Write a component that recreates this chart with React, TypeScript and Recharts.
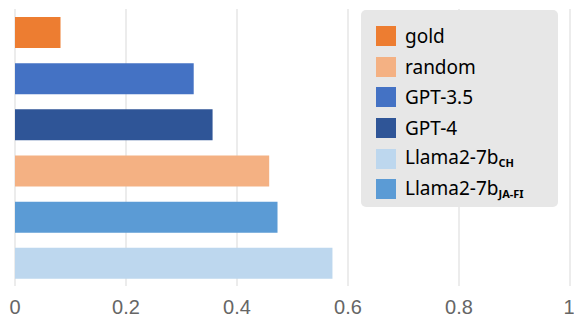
import React from 'react';
import { BarChart, Bar, XAxis, YAxis, CartesianGrid, Cell } from 'recharts';

// bars, top to bottom
const models = ['gold', 'GPT-3.5', 'GPT-4', 'random', 'Llama2-7b JA-FI', 'Llama2-7b CH'];
const scores = [0.082, 0.322, 0.356, 0.458, 0.473, 0.572];
const barColors = ['#ED7D31', '#4472C4', '#2F5597', '#F4B183', '#5B9BD5', '#BDD7EE'];

// legend order (as in the original figure)
const legendNames = ['gold', 'random', 'GPT-3.5', 'GPT-4', 'Llama2-7b', 'Llama2-7b'];
const legendSubs = ['', '', '', '', 'CH', 'JA-FI'];
const legendColors = ['#ED7D31', '#F4B183', '#4472C4', '#2F5597', '#BDD7EE', '#5B9BD5'];

const xTicks = [0, 0.2, 0.4, 0.6, 0.8, 1];

const data = models.map((m, i) => ({ model: m, score: scores[i] }));

const LegendBox = () => (
  <div
    style={{
      position: 'absolute',
      left: 361,
      top: 10,
      width: 197,
      height: 197,
      background: '#e7e7e7',
      borderRadius: 5,
      boxSizing: 'border-box',
      paddingTop: 11,
      paddingLeft: 15,
      fontFamily: "'Noto Sans', sans-serif",
      fontSize: 19,
      color: '#000',
    }}
  >
    {legendNames.map((name, i) => (
      <div key={i} style={{ display: 'flex', alignItems: 'center', height: 30.6 }}>
        <div style={{ width: 20, height: 20, background: legendColors[i], marginRight: 9 }} />
        <span style={{ lineHeight: '20px' }}>
          {name}
          {legendSubs[i] && (
            <span style={{ fontSize: 11, fontWeight: 'bold', position: 'relative', top: 3 }}>
              {legendSubs[i]}
            </span>
          )}
        </span>
      </div>
    ))}
  </div>
);

export default function App() {
  return (
    <div style={{ position: 'absolute', left: 0, top: 0, width: 574, height: 322, background: '#fff' }}>
      <BarChart
        width={574}
        height={322}
        data={data}
        layout="vertical"
        margin={{ top: 9, right: 4, bottom: 0, left: 15 }}
      >
        <CartesianGrid horizontal={false} stroke="#d9d9d9" strokeWidth={1} />
        <XAxis
          type="number"
          domain={[0, 1]}
          ticks={xTicks}
          axisLine={false}
          tickLine={false}
          height={36}
          tickMargin={8}
          tick={{ fill: '#666666', fontSize: 20, fontFamily: "'Liberation Sans Narrow', 'Liberation Sans', sans-serif" }}
        />
        <YAxis type="category" dataKey="model" hide width={0} />
        <Bar dataKey="score" barSize={31} isAnimationActive={false}>
          {data.map((d, i) => (
            <Cell key={`cell-${i}`} fill={barColors[i]} />
          ))}
        </Bar>
      </BarChart>
      <LegendBox />
    </div>
  );
}
